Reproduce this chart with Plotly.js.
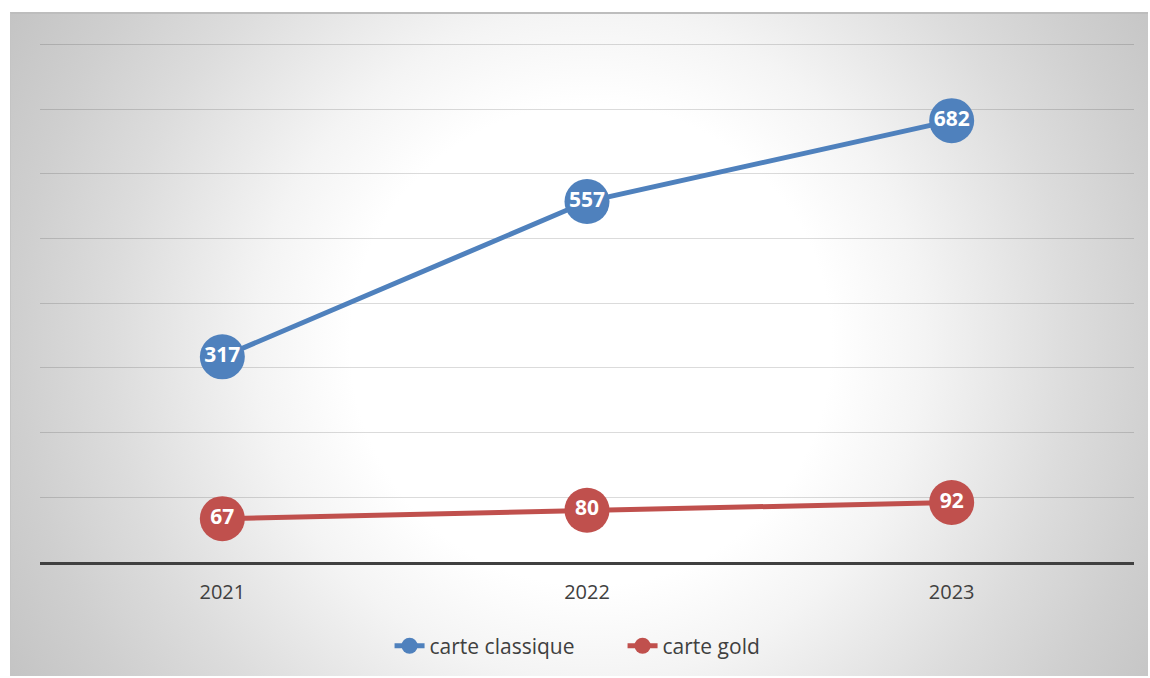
<!DOCTYPE html>
<html><head><meta charset="utf-8">
<script src="https://cdn.plot.ly/plotly-3.0.1.min.js"></script>
<style>
html,body{margin:0;padding:0;background:#fff;}
#bg{position:absolute;left:10px;top:12px;width:1138px;height:664px;box-sizing:border-box;border-top:2px solid #bdbdbd;border-left:1px solid #c4c4c4;
background:radial-gradient(circle farthest-corner at 51% 50%, #ffffff 0%, #ffffff 36%, #f4f4f4 50%, #dcdcdc 72%, #cfcfcf 86%, #c4c4c4 100%);}
#chart{position:absolute;left:0;top:0;width:1150px;height:678px;}
</style></head>
<body>
<div id="bg"></div>
<div id="chart"></div>
<script>
var years = ['2021', '2022', '2023'];
var classique = [317, 557, 682];
var gold = [67, 80, 92];
var seriesNames = ['carte classique', 'carte gold'];

var labelFont = {color: '#ffffff', size: 21, family: 'Open Sans', weight: 'bold'};
var traces = [
  {x: years, y: classique, name: seriesNames[0], type: 'scatter', mode: 'lines+markers+text',
   line: {color: '#4f81bd', width: 5}, marker: {color: '#4f81bd', size: 45},
   text: classique.map(String), textposition: 'middle center',
   textfont: labelFont, cliponaxis: false},
  {x: years, y: gold, name: seriesNames[1], type: 'scatter', mode: 'lines+markers+text',
   line: {color: '#c0504d', width: 5}, marker: {color: '#c0504d', size: 45},
   text: gold.map(String), textposition: 'middle center',
   textfont: labelFont, cliponaxis: false}
];

var layout = {
  width: 1150, height: 678,
  paper_bgcolor: 'rgba(0,0,0,0)', plot_bgcolor: 'rgba(0,0,0,0)',
  margin: {l: 40, r: 16, t: 43, b: 116},
  showlegend: true,
  legend: {orientation: 'h', x: 0.5325, xanchor: 'center', y: -0.162, yanchor: 'middle',
           entrywidth: 188, entrywidthmode: 'pixels',
           font: {size: 21, color: '#404040', family: 'Open Sans'}, tracegroupgap: 0},
  xaxis: {type: 'category', range: [-0.5, 2.5], showgrid: false, zeroline: false,
          showline: true, linecolor: '#404040', linewidth: 3, ticklabelstandoff: 10,
          tickfont: {size: 20, color: '#404040', family: 'Open Sans'}, ticks: '', ticklen: 0, fixedrange: true},
  yaxis: {range: [0, 802], dtick: 100, tick0: 0, showgrid: true, gridcolor: 'rgba(0,0,0,0.14)', gridwidth: 1,
          showticklabels: false, zeroline: false, showline: false, ticks: '', fixedrange: true}
};

Plotly.newPlot('chart', traces, layout, {displayModeBar: false, staticPlot: true});
</script>
</body></html>
